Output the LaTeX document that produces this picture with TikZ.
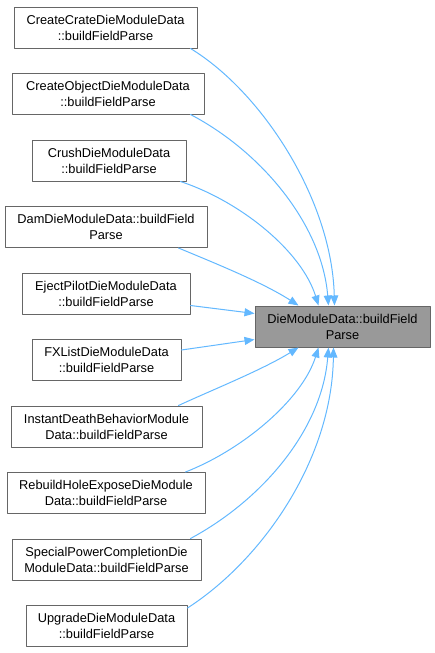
\documentclass[tikz,border=0pt]{standalone}
\usepackage{fontspec}
\setmainfont{Liberation Sans}
\usepackage{xcolor}
\usetikzlibrary{arrows.meta,calc}
\definecolor{edgeblue}{HTML}{63B8FF}
\definecolor{boxline}{HTML}{666666}
\definecolor{curfill}{HTML}{999999}
\tikzset{
  fn/.style={draw=boxline, line width=1pt, fill=white, align=center,
    minimum height=41pt, inner xsep=2pt, inner ysep=2pt,
    font=\fontsize{12.8}{16}\selectfont},
  cur/.style={fn, fill=curfill},
  call/.style={draw=edgeblue, line width=1pt,
    -{Triangle[length=10pt,width=8pt,fill=edgeblue]}},
  every picture/.style={line cap=round, line join=round}
}

\begin{document}
\begin{tikzpicture}[x=1pt,y=-1pt]
    \useasboundingbox (0,0) rectangle (435,653);

    \node[cur, minimum width=175pt] (die) at (342.5,326.5) {DieModuleData::buildField\\Parse};

    \node[fn, minimum width=183pt] (crate)   at (105.5,27.5)  {CreateCrateDieModuleData\\::buildFieldParse};
    \node[fn, minimum width=192pt] (object)  at (108,93.5)    {CreateObjectDieModuleData\\::buildFieldParse};
    \node[fn, minimum width=154pt] (crush)   at (109,160.5)   {CrushDieModuleData\\::buildFieldParse};
    \node[fn, minimum width=202pt] (dam)     at (106,227)     {DamDieModuleData::buildField\\Parse};
    \node[fn, minimum width=168pt] (eject)   at (106,293.5)   {EjectPilotDieModuleData\\::buildFieldParse};
    \node[fn, minimum width=149pt] (fxlist)  at (106.5,360)   {FXListDieModuleData\\::buildFieldParse};
    \node[fn, minimum width=191pt] (instant) at (106.5,426.5) {InstantDeathBehaviorModule\\Data::buildFieldParse};
    \node[fn, minimum width=198pt] (rebuild) at (106,493)     {RebuildHoleExposeDieModule\\Data::buildFieldParse};
    \node[fn, minimum width=189pt] (special) at (106.5,559.5) {SpecialPowerCompletionDie\\ModuleData::buildFieldParse};
    \node[fn, minimum width=161pt] (upgrade) at (106.5,626)   {UpgradeDieModuleData\\::buildFieldParse};

    % callers above
    \draw[call] ([xshift=-7pt]crate.south east) .. controls (262,92) and (332,200) .. ([xshift=-8pt]die.north);
    \draw[call] ([xshift=-14pt]object.south east) .. controls (262,152) and (322,225) .. ([xshift=-14pt]die.north);
    \draw[call] ([xshift=-6pt]crush.south east) .. controls (242,202) and (302,252) .. ([xshift=-24pt]die.north);
    \draw[call] ([xshift=-29pt]dam.south east) .. controls (212,262) and (262,282) .. ([xshift=-44pt]die.north);
    \draw[call] ([yshift=-12pt]eject.east) -- ([yshift=13pt]die.west);

    % callers below
    \draw[call] ([yshift=10pt]fxlist.east) -- ([yshift=-13pt]die.west);
    \draw[call] ([xshift=-24pt]instant.north east) .. controls (212,390) and (262,370) .. ([xshift=-44pt]die.south);
    \draw[call] ([xshift=-20pt]rebuild.north east) .. controls (242,450) and (302,400) .. ([xshift=-24pt]die.south);
    \draw[call] ([xshift=-11pt]special.north east) .. controls (262,500) and (322,430) .. ([xshift=-14pt]die.south);
    \draw[call] ([yshift=-3pt]upgrade.north east) .. controls (262,560) and (332,460) .. ([xshift=-9pt]die.south);
\end{tikzpicture}
\end{document}
